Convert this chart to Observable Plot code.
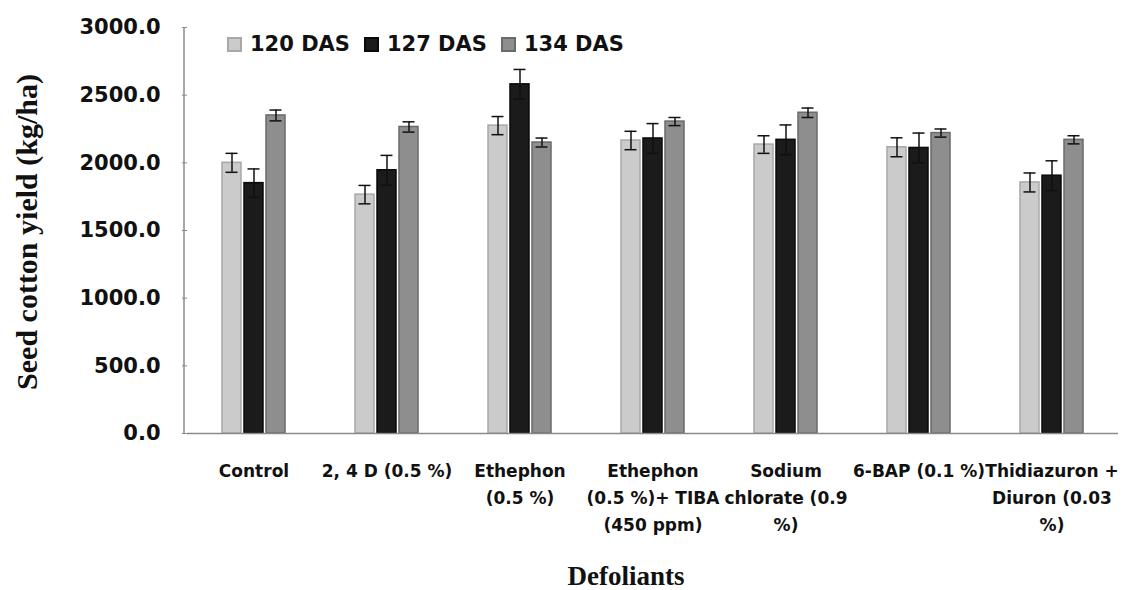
<!DOCTYPE html>
<html>
<head>
<meta charset="utf-8">
<script src="https://cdn.jsdelivr.net/npm/d3@7"></script>
<script src="https://cdn.jsdelivr.net/npm/@observablehq/plot@0.6"></script>
<style>
  body { margin: 0; background: #fff; }
  #wrap { position: relative; width: 1131px; height: 590px; overflow: hidden; }
  #legend { position: absolute; left: 227px; top: 32px; display: flex; align-items: center;
    font: bold 21px "DejaVu Sans", sans-serif; color: #111; white-space: nowrap; }
  #legend .item { display: flex; align-items: center; margin-right: 14px; }
  #legend .sw { width: 15px; height: 15px; margin-right: 8px; box-sizing: border-box; }
  #ytitle { position: absolute; left: 27px; top: 232px; transform: translate(-50%, -50%) rotate(-90deg);
    font: bold 30px "Liberation Serif", "Times New Roman", serif; line-height: 1; color: #111; white-space: nowrap; }
  #xtitle { position: absolute; left: 626px; top: 576px; transform: translate(-50%, -50%);
    font: bold 27px "Liberation Serif", "Times New Roman", serif; line-height: 1; color: #111; white-space: nowrap; }
</style>
</head>
<body>
<div id="wrap"></div>
<script>
const categories = ["Control", "2, 4 D (0.5 %)", "Ethephon\n(0.5 %)", "Ethephon\n(0.5 %)+ TIBA\n(450 ppm)",
  "Sodium\nchlorate (0.9\n%)", "6-BAP (0.1 %)", "Thidiazuron +\nDiuron (0.03\n%)"];
const series = ["120 DAS", "127 DAS", "134 DAS"];
const das120 = [2000, 1765, 2275, 2165, 2135, 2115, 1855];
const das127 = [1850, 1945, 2580, 2180, 2170, 2110, 1905];
const das134 = [2350, 2265, 2150, 2305, 2370, 2220, 2170];
const err120 = [70, 68, 67, 68, 65, 70, 70];
const err127 = [105, 110, 110, 110, 110, 110, 110];
const err134 = [40, 38, 33, 30, 35, 30, 30];
const yTicks = [0, 500, 1000, 1500, 2000, 2500, 3000];

const fills = ["#cbcbcb", "#1b1b1b", "#8e8e8e"];
const strokes = ["#a8a8a8", "#0a0a0a", "#6a6a6a"];

const values = [das120, das127, das134];
const errs = [err120, err127, err134];
const rows = [];
series.forEach((s, si) => categories.forEach((c, ci) => {
  rows.push({cat: c, series: s, si, value: values[si][ci], err: errs[si][ci]});
}));

const FONT = "DejaVu Sans, sans-serif";

const chart = Plot.plot({
  width: 1131,
  height: 590,
  marginLeft: 184,
  marginRight: 11,
  marginTop: 27,
  marginBottom: 157,
  fx: {domain: categories, padding: 0, label: null},
  x: {domain: series, paddingInner: 0.13, paddingOuter: 1.48, axis: null},
  y: {domain: [0, 3000], label: null},
  marks: [
    Plot.axisY({ticks: yTicks, tickFormat: d => d.toFixed(1), tickSize: 5, tickPadding: 22,
      fontSize: 21, fontWeight: "bold", fontFamily: FONT, fill: "#111", stroke: "#8a8a8a", label: null}),
    Plot.axisFx({anchor: "bottom", tickSize: 0, tickPadding: 24, fontSize: 17, fontWeight: "bold",
      fontFamily: FONT, fill: "#111", lineHeight: 1.59, lineWidth: 100, label: null}),
    ...series.map((s, si) => Plot.barY(rows.filter(r => r.si === si), {
      fx: "cat", x: "series", y: "value", fill: fills[si], stroke: strokes[si], strokeWidth: 1.5
    })),
    Plot.ruleY([0], {stroke: "#8a8a8a", strokeWidth: 1.5}),
    Plot.ruleX(rows, {fx: "cat", x: "series", y1: d => d.value - d.err, y2: d => d.value + d.err,
      stroke: "#111", strokeWidth: 1.5}),
    Plot.tickY(rows, {fx: "cat", x: "series", y: d => d.value + d.err, stroke: "#111", strokeWidth: 1.5,
      insetLeft: 3.5, insetRight: 3.5}),
    Plot.tickY(rows, {fx: "cat", x: "series", y: d => d.value - d.err, stroke: "#111", strokeWidth: 1.5,
      insetLeft: 3.5, insetRight: 3.5})
  ]
});

const wrap = document.getElementById("wrap");
wrap.appendChild(chart);

// y-axis line
const yline = document.createElementNS("http://www.w3.org/2000/svg", "line");
yline.setAttribute("x1", 184); yline.setAttribute("x2", 184);
yline.setAttribute("y1", 27); yline.setAttribute("y2", 433);
yline.setAttribute("stroke", "#8a8a8a"); yline.setAttribute("stroke-width", 1.5);
chart.appendChild(yline);

// legend
const legend = document.createElement("div");
legend.id = "legend";
series.forEach((s, si) => {
  const item = document.createElement("div");
  item.className = "item";
  const sw = document.createElement("div");
  sw.className = "sw";
  sw.style.background = fills[si];
  sw.style.border = "2px solid " + strokes[si];
  const t = document.createElement("span");
  t.textContent = s;
  item.appendChild(sw); item.appendChild(t);
  legend.appendChild(item);
});
wrap.appendChild(legend);

const yt = document.createElement("div");
yt.id = "ytitle"; yt.textContent = "Seed cotton yield (kg/ha)";
wrap.appendChild(yt);
const xt = document.createElement("div");
xt.id = "xtitle"; xt.textContent = "Defoliants";
wrap.appendChild(xt);
</script>
</body>
</html>
